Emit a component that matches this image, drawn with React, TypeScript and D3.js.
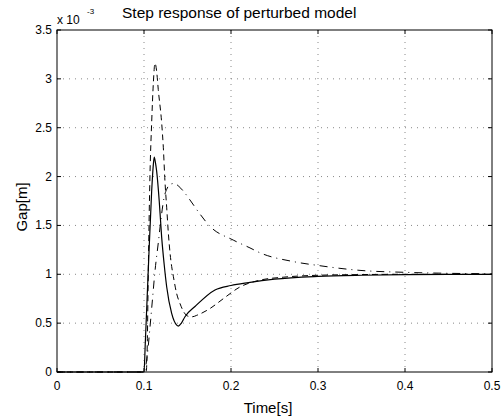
import React from "react";
import * as d3 from "d3";

const xTicks = [0, 0.1, 0.2, 0.3, 0.4, 0.5];
const yTicks = [0, 0.5, 1, 1.5, 2, 2.5, 3, 3.5];

const solidT = [0, 0.1, 0.1015, 0.1049, 0.1088, 0.1107, 0.1118, 0.113, 0.1146, 0.1175, 0.1203, 0.1232, 0.1261, 0.1318, 0.1376, 0.1394, 0.143, 0.1471, 0.1586, 0.1816, 0.2, 0.22, 0.25, 0.3, 0.35, 0.4, 0.45, 0.5];
const solidY = [0, 0, 0.3, 1.04, 1.85, 2.12, 2.2, 2.15, 2.05, 1.75, 1.38, 1.1, 0.87, 0.6, 0.48, 0.47, 0.5, 0.566, 0.67, 0.84, 0.885, 0.915, 0.95, 0.978, 0.99, 0.996, 0.999, 1.0];

const dashT = [0, 0.1025, 0.1038, 0.1049, 0.1069, 0.1088, 0.1107, 0.1126, 0.1145, 0.1164, 0.1203, 0.1222, 0.1241, 0.1261, 0.128, 0.1299, 0.1318, 0.1337, 0.1376, 0.1414, 0.146, 0.151, 0.1555, 0.1606, 0.1759, 0.1911, 0.2103, 0.2333, 0.26, 0.3, 0.35, 0.4, 0.5];
const dashY = [0, 0, 0.3, 1.01, 2.03, 2.55, 2.95, 3.16, 3.08, 2.89, 2.55, 2.3, 1.95, 1.68, 1.42, 1.22, 1.08, 0.98, 0.8, 0.7, 0.61, 0.57, 0.565, 0.58, 0.65, 0.75, 0.87, 0.94, 0.97, 0.99, 0.997, 1.0, 1.0];

const ddT = [0, 0.1, 0.1035, 0.1069, 0.1098, 0.1126, 0.1164, 0.1203, 0.1232, 0.1261, 0.13, 0.1348, 0.14, 0.1471, 0.1529, 0.1624, 0.1759, 0.2026, 0.2218, 0.2333, 0.2716, 0.3003, 0.3483, 0.4, 0.45, 0.5];
const ddY = [0, 0, 0.15, 0.46, 0.75, 1.03, 1.32, 1.62, 1.79, 1.87, 1.92, 1.93, 1.9, 1.83, 1.76, 1.64, 1.49, 1.35, 1.27, 1.22, 1.13, 1.09, 1.04, 1.02, 1.01, 1.005];

const W = 504;
const H = 420;
const L = 57, R = 492, T = 30, B = 372;
const FONT = "'Liberation Sans', Arial, Helvetica, sans-serif";

export default function App() {
  const x = d3.scaleLinear().domain([0, 0.5]).range([L, R]);
  const y = d3.scaleLinear().domain([0, 3.5]).range([B, T]);
  const line = d3
    .line<[number, number]>()
    .x((d) => x(d[0]))
    .y((d) => y(d[1]))
    .curve(d3.curveMonotoneX);
  const zip = (a: number[], b: number[]) => a.map((v, i) => [v, b[i]] as [number, number]);
  const tl = 4;

  return (
    <svg width={W} height={H} style={{ position: "absolute", left: 0, top: 0, background: "#fff" }} fontFamily={FONT}>
      <rect x={0} y={0} width={W} height={H} fill="#fff" />
      {/* grid */}
      {xTicks.slice(1, -1).map((t) => (
        <line key={"gx" + t} x1={x(t)} x2={x(t)} y1={T} y2={B} stroke="#888" strokeWidth={1} strokeDasharray="1,5" />
      ))}
      {yTicks.slice(1, -1).map((t) => (
        <line key={"gy" + t} x1={L} x2={R} y1={y(t)} y2={y(t)} stroke="#888" strokeWidth={1} strokeDasharray="1,5" />
      ))}
      {/* curves */}
      <path d={line(zip(ddT, ddY)) || ""} fill="none" stroke="#000" strokeWidth={1} strokeDasharray="8,5,1,5" />
      <path d={line(zip(dashT, dashY)) || ""} fill="none" stroke="#000" strokeWidth={1} strokeDasharray="6,4" />
      <path d={line(zip(solidT, solidY)) || ""} fill="none" stroke="#000" strokeWidth={1.2} />
      {/* box */}
      <rect x={L} y={T} width={R - L} height={B - T} fill="none" stroke="#000" strokeWidth={1} />
      {/* ticks */}
      {xTicks.map((t) => (
        <g key={"tx" + t}>
          <line x1={x(t)} x2={x(t)} y1={B} y2={B - tl} stroke="#000" />
          <line x1={x(t)} x2={x(t)} y1={T} y2={T + tl} stroke="#000" />
          <text x={x(t)} y={390} fontSize={12} textAnchor="middle" fill="#000">
            {t}
          </text>
        </g>
      ))}
      {yTicks.map((t) => (
        <g key={"ty" + t}>
          <line x1={L} x2={L + tl} y1={y(t)} y2={y(t)} stroke="#000" />
          <line x1={R} x2={R - tl} y1={y(t)} y2={y(t)} stroke="#000" />
          <text x={52} y={y(t) + 4} fontSize={12} textAnchor="end" fill="#000">
            {t}
          </text>
        </g>
      ))}
      {/* exponent */}
      <text x={57} y={24} fontSize={12} fill="#000">x 10</text>
      <text x={87} y={14} fontSize={8} fill="#000">-3</text>
      {/* title */}
      <text x={122} y={18} fontSize={15.5} fill="#000">Step response of perturbed model</text>
      {/* labels */}
      <text x={268} y={413} fontSize={15} textAnchor="middle" fill="#000">Time[s]</text>
      <text transform={`translate(27,${207}) rotate(-90)`} fontSize={15} textAnchor="middle" fill="#000">Gap[m]</text>
    </svg>
  );
}
